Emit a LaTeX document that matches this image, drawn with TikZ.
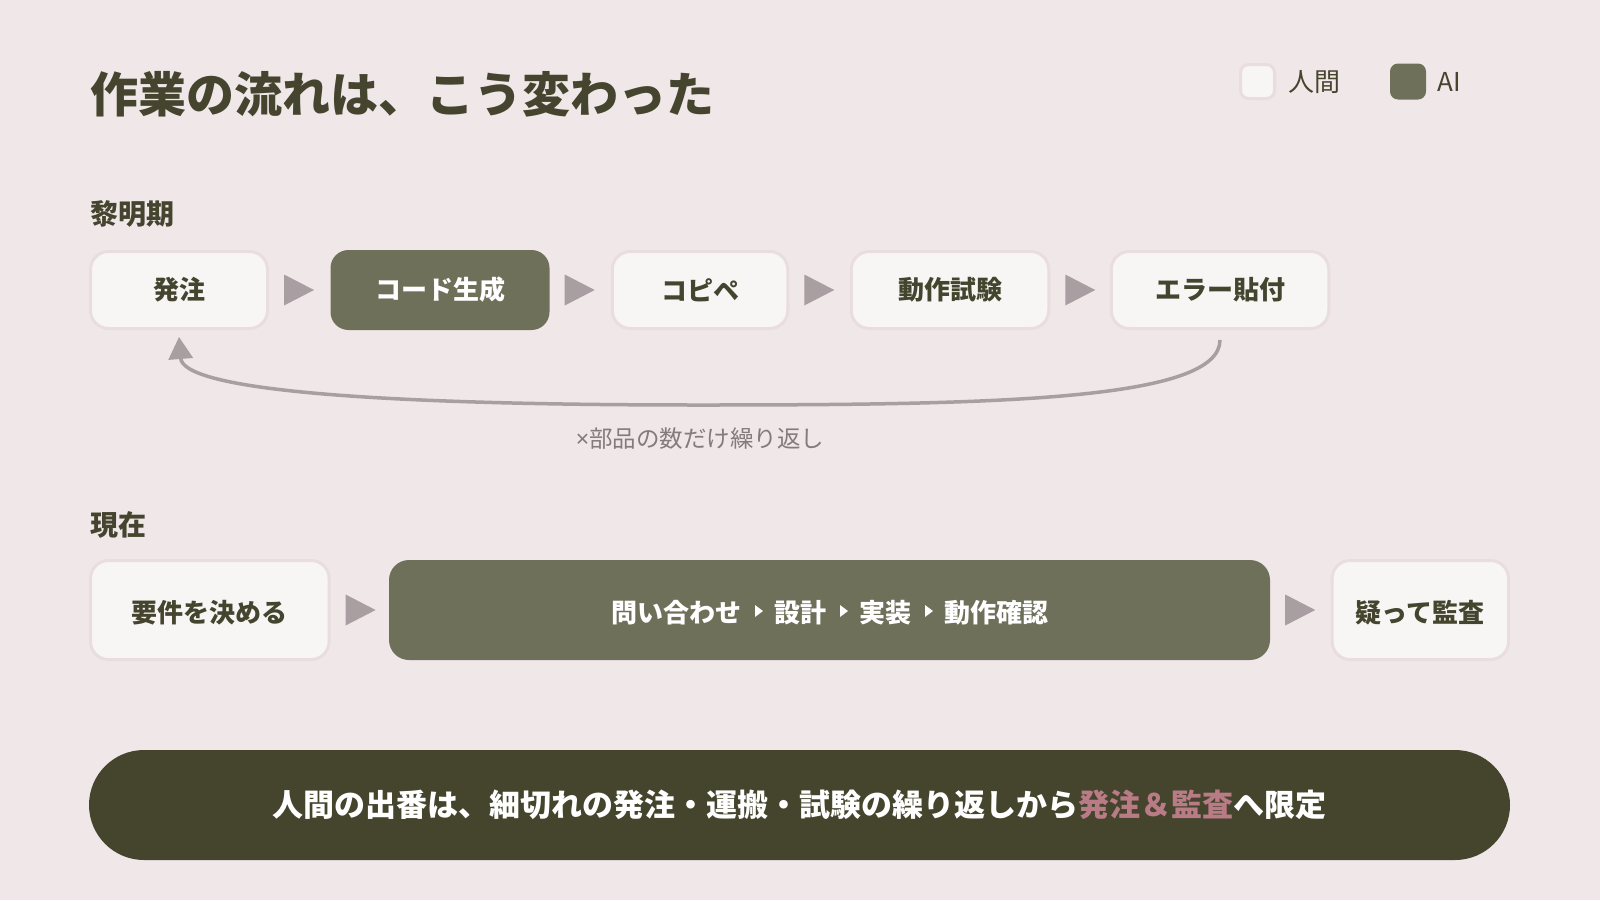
\documentclass[tikz,border=0pt]{standalone}
\usepackage{fontspec}
\setmainfont{Noto Sans CJK JP}
\newfontfamily\latinfont{Noto Sans}
\usetikzlibrary{arrows.meta,calc}
\definecolor{bgc}{HTML}{F0E7E8}
\definecolor{lightfill}{HTML}{F8F6F4}
\definecolor{lightborder}{HTML}{E9DEDD}
\definecolor{aifill}{HTML}{6E705A}
\definecolor{tric}{HTML}{A99EA1}
\definecolor{bannerc}{HTML}{45452E}
\definecolor{pinkc}{HTML}{B97C86}
\definecolor{textdark}{HTML}{45452F}
\definecolor{notec}{HTML}{857B7C}
\newcommand{\flowsep}{\hspace{14pt}\raisebox{5pt}{\tikz[sharp corners]\fill[white] (0pt,0pt) -- (0pt,12pt) -- (8pt,6pt) -- cycle;}\hspace{11pt}}
\begin{document}
\begin{tikzpicture}[x=1pt,y=-1pt,
  humanbox/.style={draw=lightborder, line width=3pt, fill=lightfill, rounded corners=18pt,
    inner sep=0pt, text=textdark, font=\fontsize{26}{30}\selectfont\bfseries},
  aibox/.style={fill=aifill, rounded corners=18pt, inner sep=0pt, text=white,
    font=\fontsize{26}{30}\selectfont\bfseries},
  rowtwo/.style={text height=24pt, text depth=0pt},
  heading/.style={anchor=west, inner sep=0pt, text=textdark, font=\fontsize{28}{32}\selectfont\bfseries},
  legendtext/.style={anchor=west, inner sep=0pt, text=textdark, font=\fontsize{26}{30}\selectfont},
  flowtri/.style={fill=tric},
  loopline/.style={draw=tric, line width=3.5pt, -{Triangle[width=24pt,length=22pt]}},
  note/.style={inner sep=0pt, text=notec, font=\fontsize{23.5}{27}\selectfont},
  banner/.style={fill=bannerc, rounded corners=55pt, inner sep=0pt, text=white,
    font=\fontsize{31}{36}\selectfont\bfseries}
]
\fill[bgc] (0,0) rectangle (1600,900);

% title
\node[anchor=west, inner sep=0pt, text=textdark, font=\fontsize{48}{54}\selectfont\bfseries] (title) at (90,94.5) {作業の流れは、こう変わった};

% legend
\node[humanbox, minimum width=34pt, minimum height=34pt, rounded corners=8pt] (lh) at (1257.5,81.5) {};
\node[legendtext] (lhl) at (1288,82) {人間};
\node[aibox, minimum width=36pt, minimum height=36pt, rounded corners=8pt] (la) at (1408,81.5) {};
\node[legendtext] (lal) at (1437,82) {AI};

% row 1
\node[heading] (h1) at (90,214) {黎明期};
\node[humanbox, minimum width=177pt, minimum height=77pt] (hatchu) at (179,290) {発注};
\node[aibox, minimum width=219pt, minimum height=80pt] (code) at (440,290) {コード生成};
\node[humanbox, minimum width=175.5pt, minimum height=77pt] (copipe) at (700,290) {コピペ};
\node[humanbox, minimum width=197.5pt, minimum height=77pt] (dousa) at (950,290) {動作試験};
\node[humanbox, minimum width=217.5pt, minimum height=77pt] (error) at (1220,290) {エラー貼付};

\foreach \n in {hatchu,code,copipe,dousa}{
  \fill[flowtri] ($(\n.east)+(15,-15.5)$) -- ($(\n.east)+(15,15.5)$) -- ($(\n.east)+(45,0)$) -- cycle;
}

% loop
\coordinate (loopstart) at ($(error.south)+(0,10)$);
\coordinate (loopend) at ($(hatchu.south)+(0,7)$);
\draw[loopline] (loopstart) .. controls (1220,400) and (1000,405) .. (700,405)
  .. controls (350,405) and (183,388) .. (loopend);
\node[note] (looplabel) at (700,439) {{\latinfont ×}部品の数だけ繰り返し};

% row 2
\node[heading] (h2) at (90,524.5) {現在};
\node[humanbox, rowtwo, minimum width=238.6pt, minimum height=99pt] (req) at (209.8,610) {要件を決める};
\node[aibox, rowtwo, minimum width=881pt, minimum height=100pt, rounded corners=20pt] (ai) at (829.5,610)
  {問い合わせ\flowsep 設計\flowsep 実装\flowsep 動作確認};
\node[humanbox, rowtwo, minimum width=176.4pt, minimum height=99pt] (audit) at (1420.3,610) {疑って監査};
\foreach \n in {req,ai}{
  \fill[flowtri] ($(\n.east)+(15,-15.5)$) -- ($(\n.east)+(15,15.5)$) -- ($(\n.east)+(45,0)$) -- cycle;
}

% banner
\node[banner, minimum width=1421pt, minimum height=110pt] (ban) at (799.5,805)
  {人間の出番は、細切れの発注・運搬・試験の繰り返しから\textcolor{pinkc}{発注＆監査}へ限定};
\end{tikzpicture}
\end{document}
